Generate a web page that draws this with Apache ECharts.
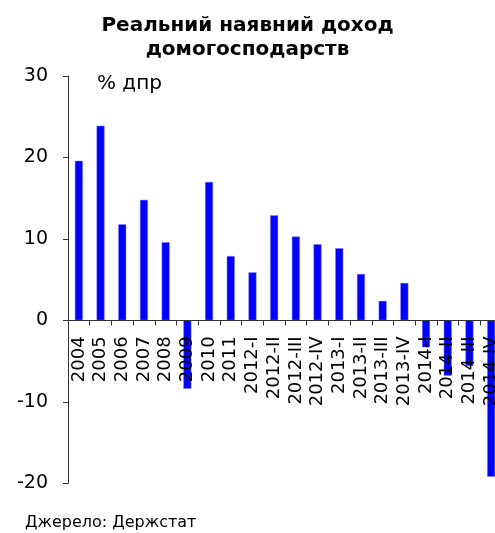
<!DOCTYPE html>
<html>
<head>
<meta charset="utf-8">
<script src="https://cdn.jsdelivr.net/npm/echarts@6/dist/echarts.min.js"></script>
<style>
html,body{margin:0;padding:0;background:#fff;}
#chart{width:495px;height:533px;}
</style>
</head>
<body>
<div id="chart"></div>
<script>
const categories = ['2004','2005','2006','2007','2008','2009','2010','2011',
  '2012-I','2012-II','2012-III','2012-IV','2013-I','2013-II','2013-III','2013-IV',
  '2014-I','2014-II','2014-III','2014-IV'];
const values = [19.6, 23.9, 11.8, 14.8, 9.6, -8.4, 17.0, 7.9,
  5.9, 12.9, 10.3, 9.35, 8.86, 5.7, 2.4, 4.6,
  -3.3, -6.8, -5.6, -19.2];
const yTicks = {min: -20, max: 30, interval: 10};
const titleText = 'Реальний наявний доход\nдомогосподарств';
const unitText = '% дпр';
const sourceText = 'Джерело: Держстат';

const FONT = 'DejaVu Sans';
const gridTop = 76, gridBottom = 49.7;
const plotH = 533 - gridTop - gridBottom;
const zeroOffset = -plotH * (0 - yTicks.min) / (yTicks.max - yTicks.min);

const chart = echarts.init(document.getElementById('chart'), null, {renderer: 'canvas'});
chart.setOption({
  animation: false,
  backgroundColor: '#fff',
  title: {
    text: titleText,
    left: 'center',
    top: 9,
    textStyle: {fontFamily: FONT, fontSize: 20, fontWeight: 'bold', color: '#000', lineHeight: 24}
  },
  graphic: [
    {type: 'text', left: 97, top: 74, style: {text: unitText, font: '20px "DejaVu Sans"', fill: '#000'}},
    {type: 'text', left: 25, top: 515, style: {text: sourceText, font: '16px "DejaVu Sans"', fill: '#000'}}
  ],
  grid: {left: 68, right: -7, top: gridTop, bottom: gridBottom, containLabel: false, outerBoundsMode: 'none'},
  xAxis: {
    type: 'category',
    data: categories,
    offset: zeroOffset,
    z: 5,
    axisLine: {onZero: false, lineStyle: {color: '#333', width: 1}},
    axisTick: {show: true, length: 5, inside: false, alignWithLabel: false, lineStyle: {color: '#333'}},
    axisLabel: {rotate: 90, interval: 0, margin: 16, fontFamily: FONT, fontSize: 18, color: '#000'},
    splitLine: {show: false}
  },
  yAxis: {
    type: 'value',
    min: yTicks.min, max: yTicks.max, interval: yTicks.interval,
    axisLine: {show: true, lineStyle: {color: '#333', width: 1}},
    axisTick: {show: true, length: 5, lineStyle: {color: '#333'}},
    axisLabel: {margin: 20, fontFamily: FONT, fontSize: 19, color: '#000'},
    splitLine: {show: false}
  },
  series: [{
    type: 'bar',
    data: values,
    barWidth: 8,
    z: 2,
    itemStyle: {color: '#0000ff', borderColor: '#8080ff', borderWidth: 0.5}
  }]
});
</script>
</body>
</html>
